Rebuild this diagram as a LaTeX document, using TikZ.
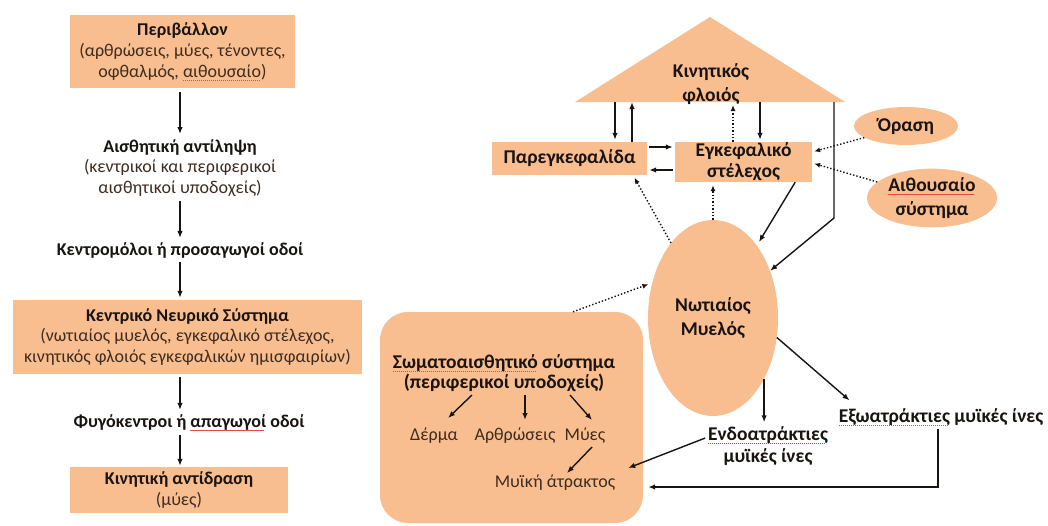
\documentclass[tikz,border=0pt]{standalone}
\usepackage{fontspec}
\setmainfont{Carlito}
\usetikzlibrary{arrows.meta,shapes.geometric,calc}
\definecolor{peach}{RGB}{248,190,143}
\definecolor{ink}{RGB}{25,20,18}
\definecolor{brownink}{RGB}{62,44,32}
\definecolor{spellred}{RGB}{235,70,70}
\newsavebox\spellbox
\newcommand\spellmark[1]{\sbox\spellbox{#1}\rlap{\textcolor{spellred}{\hbox to \wd\spellbox{\leaders\hbox to 2pt{\rule[-0.34ex]{1.1pt}{0.5pt}\hss}\hfill}}}\usebox\spellbox}
\newcommand\rg[1]{\textcolor{brownink}{#1}}
\begin{document}
\begin{tikzpicture}[x=1pt,y=-1pt,
  every node/.style={font=\fontsize{18}{20.8}\selectfont, text=ink, inner sep=0pt},
  box/.style={fill=peach, draw=none, align=center},
  lbl/.style={align=center},
  rfont/.style={font=\fontsize{19.5}{24.5}\selectfont},
  sfont/.style={font=\fontsize{18}{20}\selectfont},
  arr/.style={-{Latex[length=7pt,width=5.5pt]}, line width=1.4pt, draw=ink},
  dot/.style={-{Latex[length=6pt,width=5pt]}, line width=1.4pt, dotted, draw=ink},
]
\useasboundingbox (0,0) rectangle (1048,525);
\fill[white] (0,0) rectangle (1048,525);

% ---------------- left column ----------------
\node[box, minimum width=225pt, minimum height=73pt] (env) at (182.5,51.5)
  {\textbf{Περιβάλλον}\\ \rg{(αρθρώσεις, μύες, τένοντες,}\\ \rg{οφθαλμός, \spellmark{αιθουσαίο})}};
\node[lbl] (perc) at (180,168)
  {\textbf{Αισθητική αντίληψη}\\ \rg{(κεντρικοί και περιφερικοί}\\ \rg{αισθητικοί υποδοχείς)}};
\node[lbl] (aff) at (180,250) {\textbf{Κεντρομόλοι ή προσαγωγοί οδοί}};
\node[box, minimum width=349pt, minimum height=74pt] (cns) at (187.5,337)
  {\textbf{Κεντρικό Νευρικό Σύστημα}\\ \rg{(νωτιαίος μυελός, εγκεφαλικό  στέλεχος,}\\ \rg{κινητικός φλοιός εγκεφαλικών ημισφαιρίων)}};
\node[lbl] (eff) at (189,423) {\textbf{Φυγόκεντροι ή \spellmark{απαγωγοί} οδοί}};
\node[box, minimum width=218pt, minimum height=46pt] (motor) at (179,490)
  {\textbf{Κινητική αντίδραση}\\ \rg{(μύες)}};

\coordinate (ax) at (180,0);
\draw[arr, shorten <=4pt, shorten >=5pt] (env.south -| ax) -- (perc.north -| ax);
\draw[arr, shorten <=4pt, shorten >=4pt] (perc.south -| ax) -- (aff.north -| ax);
\draw[arr, shorten <=4pt, shorten >=2pt] (aff.south -| ax) -- (cns.north -| ax);
\draw[arr, shorten <=3pt, shorten >=5pt] (cns.south -| ax) -- (eff.north -| ax);
\draw[arr, shorten <=4pt, shorten >=1pt] (eff.south -| ax) -- (motor.north -| ax);

% ---------------- right part: shapes ----------------
\fill[peach] (575,102) -- (710,17) -- (845,102) -- cycle;
\coordinate (cbase) at (710,102);
\node[lbl, rfont] (ctx) at (711,84) {\textbf{Κινητικός}\\ \textbf{φλοιός}};

\node[box, rfont, minimum width=155pt, minimum height=33pt] (par) at (569.5,158.5) {\textbf{Παρεγκεφαλίδα}};
\node[box, minimum width=137pt, minimum height=40pt, font=\fontsize{19.5}{21}\selectfont] (stem) at (743.5,162)
  {\textbf{Εγκεφαλικό}\\ \textbf{στέλεχος}};
\node[ellipse, rfont, fill=peach, minimum width=104pt, minimum height=38pt] (vis) at (906,126) {\textbf{Όραση}};
\node[ellipse, fill=peach, minimum width=130pt, minimum height=44pt, align=center, rfont] (vest) at (932,198)
  {\textbf{\spellmark{Αιθουσαίο}}\\ \textbf{σύστημα}};
\node[ellipse, fill=peach, minimum width=130pt, minimum height=196pt, align=center, rfont] (spinal) at (713,318)
  {\textbf{Νωτιαίος}\\ \textbf{Μυελός}};
\node[box, rounded corners=28pt, minimum width=263pt, minimum height=211pt] (soma) at (511.5,417.5) {};

\node[lbl, font=\fontsize{19.5}{19.5}\selectfont] (stitle) at (504,373)
  {\textbf{\spellmark{Σωματοαισθητικό} σύστημα}\\ \textbf{(περιφερικοί υποδοχείς)}};
\node[sfont] (derma) at (434,436) {\rg{Δέρμα}};
\node[sfont] (arthr) at (515,436) {\rg{Αρθρώσεις}};
\node[sfont] (myes) at (585,436) {\rg{Μύες}};
\node[sfont] (atr) at (555,483) {\rg{Μυϊκή άτρακτος}};

\node[lbl, font=\fontsize{19.5}{22}\selectfont] (endo) at (768,446) {\textbf{\spellmark{Ενδοατράκτιες}}\\ \textbf{μυϊκές ίνες}};
\node[rfont] (exo) at (941,417) {\textbf{\spellmark{Εξωατράκτιες} μυϊκές ίνες}};

% ---------------- right part: connectors ----------------
\coordinate (cb1) at (615,102);
\coordinate (cb2) at (632,102);
\coordinate (cb3) at (733,102);
\coordinate (cb4) at (760,102);
\coordinate (cb5) at (834,102);
\coordinate (kink) at (834,218);
\draw[arr, shorten >=2pt] (cb1) -- (cb1 |- par.north);
\draw[arr] (cb2 |- par.north) -- (cb2);
\draw[dot, shorten >=3pt] (cb3 |- stem.north) -- (cb3);
\draw[arr, shorten >=2pt] (cb4) -- (cb4 |- stem.north);
\draw[arr, line join=miter] (cb5) -- (kink) -- (spinal);

\coordinate (h1) at ([yshift=11.5pt]par.east);
\coordinate (h2) at ([yshift=-11.5pt]par.east);
\draw[arr, shorten <=2pt, shorten >=2pt] (h1) -- (h1 -| stem.west);
\draw[arr, shorten <=2pt, shorten >=2pt] (h2 -| stem.west) -- (h2);

\coordinate (se1) at ([yshift=10pt]stem.east);
\coordinate (se2) at ([yshift=-1pt]stem.east);
\draw[dot, shorten >=2pt] (vis) -- (se1);
\draw[dot, shorten >=2pt] (vest) -- (se2);

\coordinate (pb) at ([xshift=63.5pt]par.south);
\draw[dot, shorten >=3pt] (spinal) -- (pb);
\draw[dot, shorten >=3pt] (spinal.north) -- (spinal.north |- stem.south);
\coordinate (sr) at ([xshift=-17pt]stem.south east);
\draw[arr, shorten >=4pt] (sr) -- (spinal);

\coordinate (st) at ([xshift=61.5pt]soma.north);
\draw[dot, shorten >=4pt] (st) -- (spinal.150);

\draw[arr, shorten >=4pt] (spinal.-50) -- (spinal.-50 |- endo.north);
\draw[arr, shorten >=12pt] (spinal.-17) -- ([xshift=20pt]exo.north west);
\draw[arr, shorten <=3pt] ([yshift=9pt]endo.west) -- ([xshift=-15pt,yshift=-50.5pt]soma.east);
\draw[arr, shorten <=3pt] ([xshift=-3pt]exo.south) |- ([xshift=5pt,yshift=-69.5pt]soma.east);

\draw[arr] ($(stitle)+(-32,22)$) -- ($(derma)+(14,-18)$);
\draw[arr] ($(stitle)+(21,22)$) -- ($(arthr)+(10,-16)$);
\draw[arr] ($(stitle)+(66,22)$) -- ($(myes)+(7,-16)$);
\draw[arr] ($(myes)+(7,11)$) -- ($(atr)+(12,-10)$);
\end{tikzpicture}
\end{document}
